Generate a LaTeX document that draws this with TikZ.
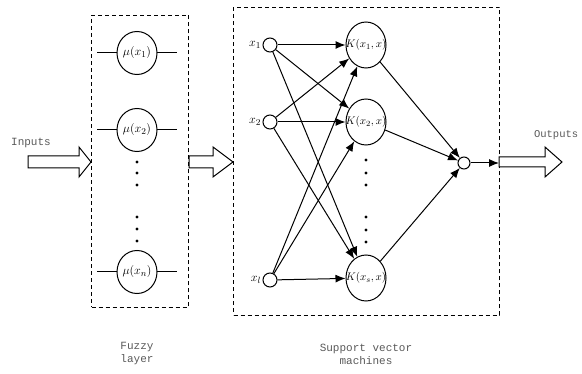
\documentclass[tikz,border=0pt]{standalone}
\usepackage{fontspec}
\setmonofont{Liberation Mono}
\usetikzlibrary{arrows.meta,shapes.geometric}
\begin{document}
\begin{tikzpicture}[x=1pt,y=-1pt,
  line width=1pt,
  dbox/.style={draw,dashed,dash pattern=on 4pt off 3pt,line width=1pt},
  mfn/.style={draw,ellipse,fill=white,minimum width=40pt,minimum height=43pt,inner sep=0pt},
  kfn/.style={draw,ellipse,fill=white,minimum width=40pt,minimum height=46pt,inner sep=0pt},
  inp/.style={draw,circle,minimum size=14pt,inner sep=0pt},
  outn/.style={draw,circle,minimum size=12pt,inner sep=0pt},
  captxt/.style={font=\ttfamily\fontsize{11}{13}\selectfont,text=black!65,align=center},
  mlab/.style={inner sep=0pt,font=\fontsize{12.5}{14}\selectfont},
  klab/.style={inner sep=0pt,font=\fontsize{11}{13}\selectfont},
  arr/.style={-{Latex[length=10pt,width=8pt]}},
  hollow/.style={draw,line width=1pt,fill=white},
  dotn/.style={circle,fill,inner sep=0pt,minimum size=3.4pt}
]
\useasboundingbox (0,0) rectangle (582,374);

% boxes
\node[dbox,minimum width=97pt,minimum height=292pt,anchor=north west] (fbox) at (91,15) {};
\node[dbox,minimum width=266pt,minimum height=308pt,anchor=north west] (sbox) at (233,7) {};

% fuzzy layer
\foreach \y/\n in {53/1,130/2,272/n}{
  \draw (97,\y) -- (177,\y);
}
\node[mfn,label={[mlab]center:$\mu(x_1)$}] (m1) at (137,53) {};
\node[mfn,label={[mlab]center:$\mu(x_2)$}] (m2) at (137,130) {};
\node[mfn,label={[mlab]center:$\mu(x_n)$}] (mn) at (137,272) {};
\foreach \y [count=\i] in {162,173,185,217,229,241}{
  \node[dotn] (fd\i) at (137,\y) {};
}

% hollow arrows
\draw[hollow] (28,156) -- (79,156) -- (79,147) -- (91,162) -- (79,177) -- (79,168) -- (28,168) -- cycle;
\draw[hollow] (189,156) -- (213,156) -- (213,147) -- (233,162) -- (213,177) -- (213,168) -- (189,168) -- cycle;
\draw[hollow] (499,157) -- (545,157) -- (545,147) -- (562,162) -- (545,177) -- (545,167) -- (499,167) -- cycle;

\node[captxt,anchor=center] (tin) at (31,143) {Inputs};
\node[captxt,anchor=east,font=\ttfamily\fontsize{10.5}{13}\selectfont] (tout) at (582,135) {Outputs};

% SVM inputs
\node[inp,label={[mlab,inner sep=1pt]left:$x_1$}] (x1) at (270,45) {};
\node[inp,label={[mlab,inner sep=1pt]left:$x_2$}] (x2) at (270,122) {};
\node[inp,label={[mlab,inner sep=1pt]left:$x_l$}] (xl) at (270,280) {};

% kernels
\node[kfn,label={[klab]center:$K(x_1,x)$}] (k1) at (366,45) {};
\node[kfn,label={[klab]center:$K(x_2,x)$}] (k2) at (366,122) {};
\node[kfn,label={[klab]center:$K(x_s,x)$}] (ks) at (366,278) {};
\foreach \y [count=\i] in {160,173,185,217,230,242}{
  \node[dotn] (sd\i) at (366,\y) {};
}

\foreach \a in {x1,x2,xl}{
  \foreach \b in {k1,k2,ks}{
    \draw[arr] (\a) -- (\b);
  }
}

\node[outn] (o) at (464,163) {};
\coordinate (oe) at (499,163);
\foreach \b in {k1,k2,ks}{ \draw[arr] (\b) -- (o); }
\draw[arr] (o) -- (oe);

% captions
\node[captxt] (c1) at (137,354) {Fuzzy\\layer};
\node[captxt] (c2) at (366,354) {Support vector\\machines};
\end{tikzpicture}
\end{document}
